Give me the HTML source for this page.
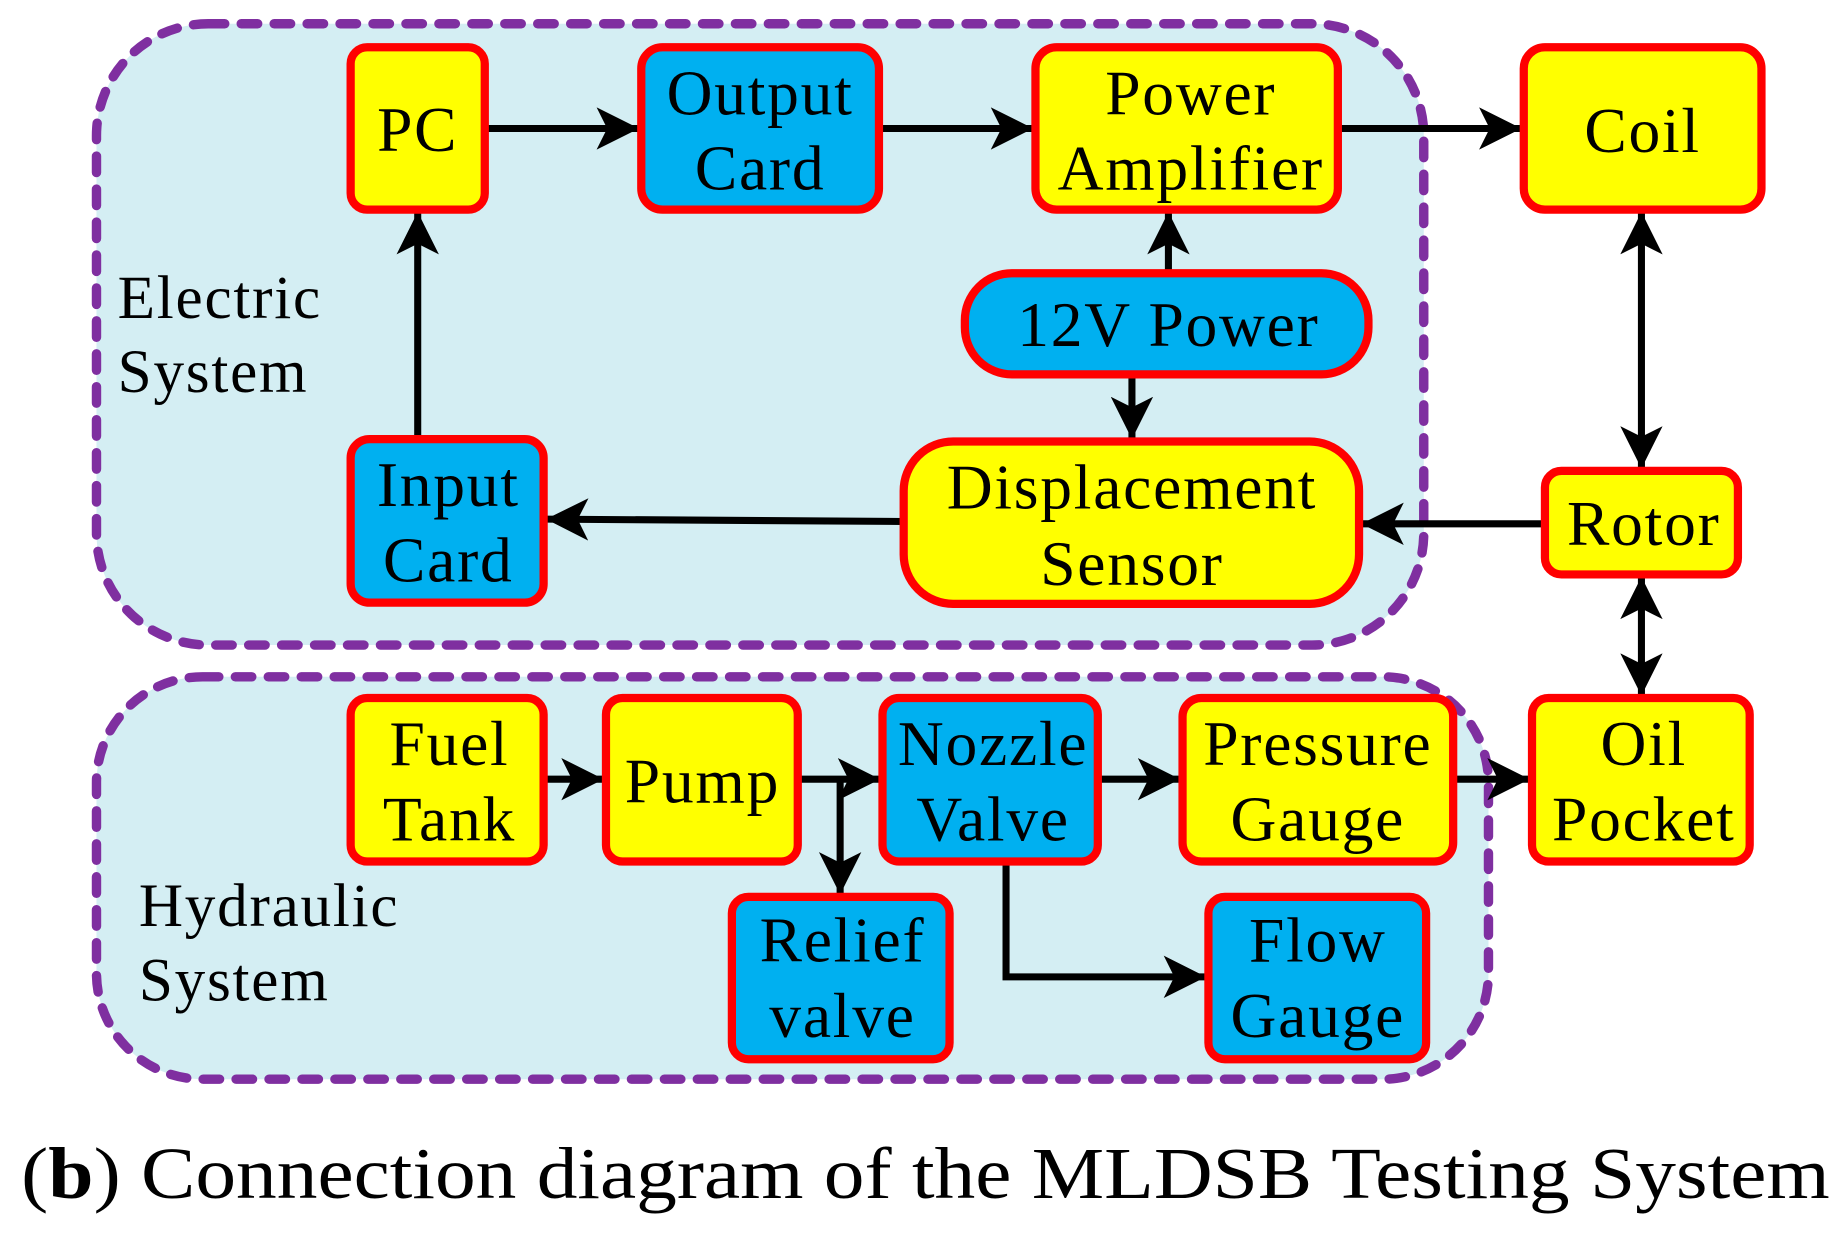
<!DOCTYPE html>
<html><head><meta charset="utf-8"><style>html,body{margin:0;padding:0;background:#fff}svg{display:block}</style></head>
<body>
<svg width="1845" height="1243" viewBox="0 0 1568 1056" xmlns="http://www.w3.org/2000/svg" font-family="'Liberation Serif', serif">
<defs>
<marker id="a" viewBox="0 0 10 10" refX="10" refY="5" markerWidth="6" markerHeight="6" markerUnits="strokeWidth" orient="auto-start-reverse">
<path d="M0,0 L10,5 L0,10 L2.5,5 Z" fill="#000"/></marker>
</defs>
<g fill="#d4eef3" stroke="#7f2fa0" stroke-width="8" stroke-dasharray="14 14" stroke-linecap="round">
<rect x="82" y="20" width="1128" height="528" rx="95"/>
<rect x="82" y="575" width="1183" height="342" rx="90"/>
</g>
<g stroke="#000" stroke-width="6" fill="none" marker-end="url(#a)">
<line x1="412" y1="109" x2="543" y2="109"/>
<line x1="747" y1="109" x2="878" y2="109"/>
<line x1="1137" y1="109" x2="1293" y2="109"/>
<line x1="993" y1="232" x2="993" y2="180"/>
<line x1="962" y1="318" x2="962" y2="373"/>
<line x1="1395" y1="180" x2="1395" y2="398" marker-start="url(#a)"/>
<line x1="1313" y1="445" x2="1157" y2="445"/>
<line x1="768" y1="443" x2="464" y2="441"/>
<line x1="355" y1="373" x2="355" y2="180"/>
<line x1="1395" y1="490" x2="1395" y2="591" marker-start="url(#a)"/>
<line x1="462" y1="662" x2="513" y2="662"/>
<line x1="678" y1="662" x2="748" y2="662"/>
<polyline points="714,662 714,760"/>
<line x1="933" y1="662" x2="1003" y2="662"/>
<line x1="1235" y1="662" x2="1300" y2="662"/>
<polyline points="855,732 855,830 1025,830"/>
</g>
<g stroke="#ff0000" stroke-width="7">
<rect x="298" y="40" width="114" height="138" rx="14" fill="#ffff00"/>
<rect x="545" y="40" width="202" height="138" rx="18" fill="#00b0f0"/>
<rect x="880" y="40" width="257" height="138" rx="18" fill="#ffff00"/>
<rect x="1295" y="40" width="202" height="138" rx="18" fill="#ffff00"/>
<rect x="820" y="232" width="343" height="86" rx="40" fill="#00b0f0"/>
<rect x="768" y="375" width="387" height="138" rx="42" fill="#ffff00"/>
<rect x="298" y="373" width="164" height="139" rx="16" fill="#00b0f0"/>
<rect x="1313" y="400" width="164" height="88" rx="14" fill="#ffff00"/>
<rect x="298" y="593" width="164" height="139" rx="14" fill="#ffff00"/>
<rect x="515" y="593" width="163" height="139" rx="14" fill="#ffff00"/>
<rect x="750" y="593" width="183" height="139" rx="14" fill="#00b0f0"/>
<rect x="1005" y="593" width="230" height="139" rx="16" fill="#ffff00"/>
<rect x="1302" y="593" width="185" height="139" rx="14" fill="#ffff00"/>
<rect x="622" y="762" width="185" height="138" rx="14" fill="#00b0f0"/>
<rect x="1027" y="762" width="185" height="138" rx="14" fill="#00b0f0"/>
</g>
<g font-size="54" text-anchor="middle" fill="#000" letter-spacing="1.5">
<text x="355" y="128">PC</text>
<text x="646" y="97">Output</text><text x="646" y="161">Card</text>
<text x="1012" y="97">Power</text><text x="1012" y="161">Amplifier</text>
<text x="1396" y="129">Coil</text>
<text x="993" y="294">12V Power</text>
<text x="962" y="432">Displacement</text><text x="962" y="497">Sensor</text>
<text x="381" y="430">Input</text><text x="381" y="494">Card</text>
<text x="1397" y="463">Rotor</text>
<text x="382" y="650">Fuel</text><text x="382" y="714">Tank</text>
<text x="597" y="682">Pump</text>
<text x="844" y="650">Nozzle</text><text x="844" y="714">Valve</text>
<text x="1120" y="650">Pressure</text><text x="1120" y="714">Gauge</text>
<text x="1397" y="650">Oil</text><text x="1397" y="714">Pocket</text>
<text x="716" y="817">Relief</text><text x="716" y="881">valve</text>
<text x="1120" y="817">Flow</text><text x="1120" y="881">Gauge</text>
</g>
<g font-size="52" fill="#000" letter-spacing="1.5">
<text x="100" y="270">Electric</text><text x="100" y="333">System</text>
<text x="118" y="787">Hydraulic</text><text x="118" y="850">System</text>
</g>
<text x="18" y="1018" font-size="62" fill="#000" textLength="1537" lengthAdjust="spacingAndGlyphs">(<tspan font-weight="bold">b</tspan>) Connection diagram of the MLDSB Testing System</text>
</svg>
</body></html>
